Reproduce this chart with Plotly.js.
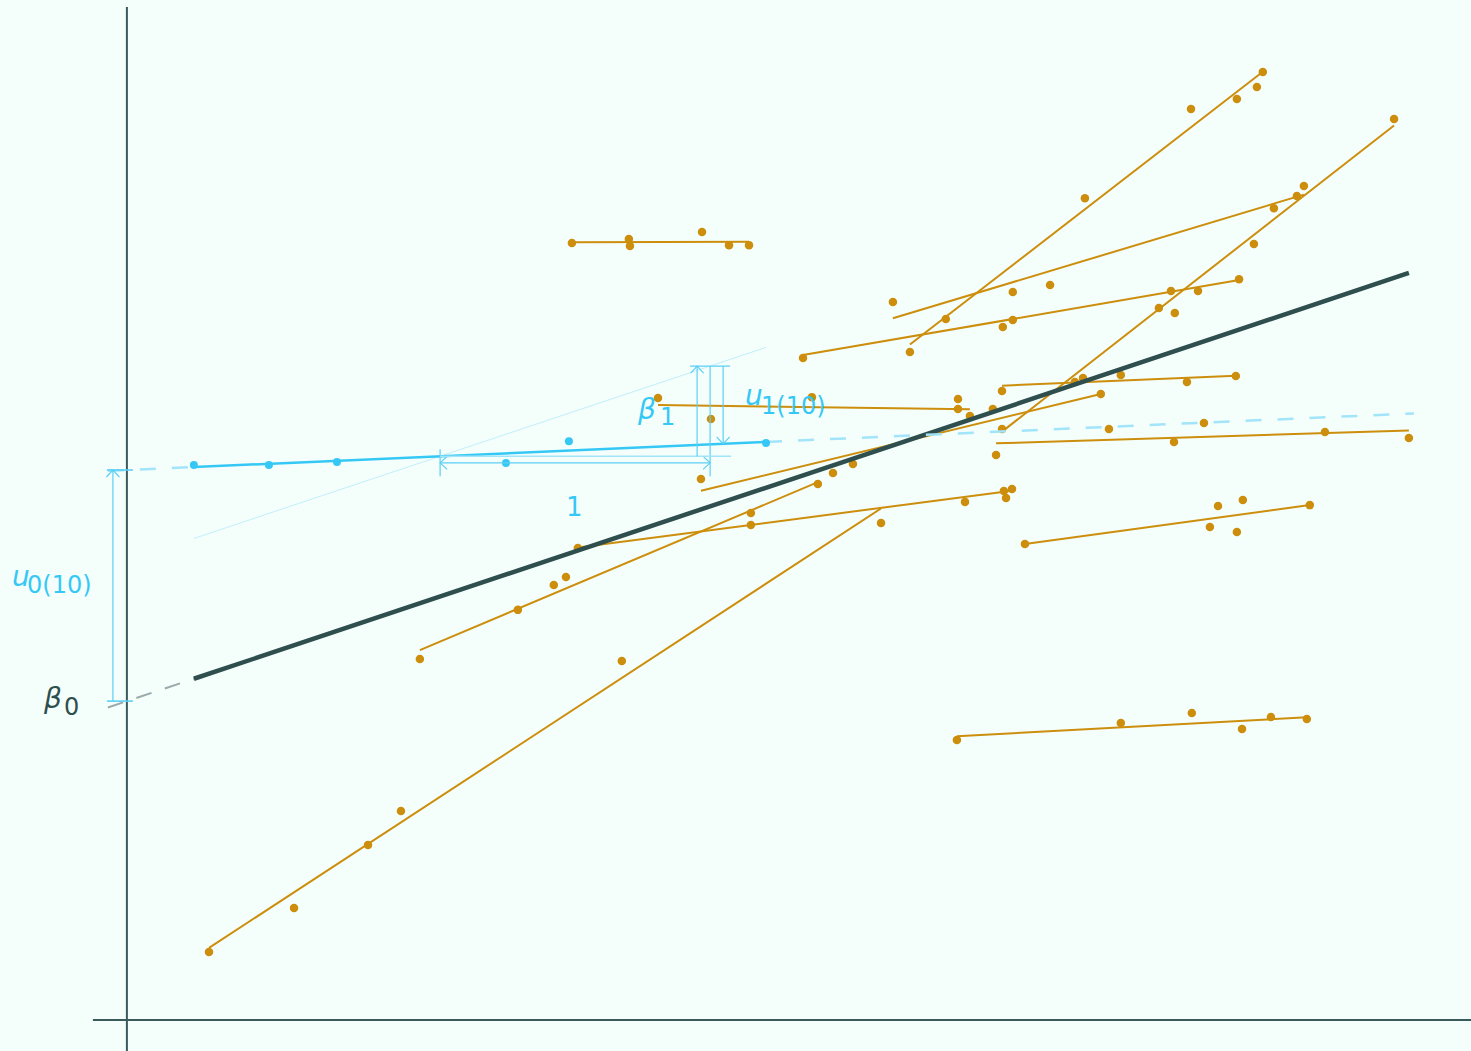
<!DOCTYPE html>
<html>
<head>
<meta charset="utf-8">
<script src="https://cdn.plot.ly/plotly-3.0.1.min.js"></script>
<style>
  html, body { margin: 0; padding: 0; background: #f4fffc; }
  #chart { width: 1471px; height: 1051px; }
</style>
</head>
<body>
<div id="chart"></div>
<script>
// Multilevel model: pupils (points) nested in schools; each school has its own
// regression line, the thick line is the overall (fixed-effect) line and
// school 10 is highlighted with its random intercept u0 and random slope u1.

// x values of the pupils in each of the other schools
const groupX = [
  [0.304, 0.619, 0.893, 1.015, 1.833, 2.793],
  [1.085, 1.448, 1.581, 1.626, 2.311, 2.559],
  [1.648, 1.859, 1.863, 2.130, 2.230, 2.304],
  [2.126, 2.615, 2.689, 3.207, 3.607],
  [1.967, 2.163, 2.537, 3.078, 3.078, 3.122],
  [1.670, 2.311, 3.104, 3.248, 3.278, 3.256],
  [2.504, 3.244, 3.281, 3.867, 3.967, 4.119],
  [3.241, 3.541, 3.822, 3.881, 4.174, 4.693],
  [2.900, 3.033, 3.548, 3.941, 4.111, 4.185, 4.207],
  [2.837, 3.281, 3.419, 4.248, 4.333, 4.359],
  [3.241, 3.511, 3.681, 3.926, 4.107],
  [3.219, 3.637, 3.878, 3.989, 4.437, 4.748],
  [3.326, 4.011, 4.041, 4.111, 4.133, 4.381],
  [3.074, 3.681, 3.944, 4.130, 4.237, 4.370]
];
// y values of the same pupils
const groupY = [
  [0.252, 0.415, 0.648, 0.774, 1.330, 1.841],
  [1.337, 1.519, 1.611, 1.641, 1.878, 1.985],
  [2.878, 2.893, 2.867, 2.919, 2.870, 2.870],
  [2.004, 2.026, 2.059, 2.263, 2.319],
  [2.304, 2.226, 2.307, 2.300, 2.263, 2.237],
  [1.748, 1.833, 1.919, 1.959, 1.967, 1.933],
  [2.452, 2.567, 2.593, 2.700, 2.700, 2.744],
  [2.189, 2.378, 2.637, 2.619, 2.874, 3.337],
  [2.474, 2.596, 3.044, 3.374, 3.411, 3.456, 3.511],
  [2.659, 2.696, 2.722, 3.007, 3.052, 3.089],
  [2.330, 2.363, 2.389, 2.363, 2.385],
  [2.093, 2.189, 2.141, 2.211, 2.178, 2.156],
  [1.763, 1.826, 1.904, 1.807, 1.926, 1.907],
  [1.037, 1.100, 1.137, 1.078, 1.122, 1.115]
];
// fitted school lines
const groupIntercept = [0.068, 0.912, 2.876, 1.446, 2.303, 1.531, 2.032, -0.352, 0.260, 1.745, 2.210, 2.036, 1.307, 0.885];
const groupSlope     = [0.654, 0.422, 0.003, 0.242, -0.013, 0.131, 0.172, 0.781, 0.773, 0.301, 0.043, 0.031, 0.137, 0.054];

// school 10
const focusX = [0.248, 0.526, 0.778, 1.404, 1.637, 2.367];
const focusY = [2.056, 2.056, 2.067, 2.063, 2.144, 2.137];

// fixed effects and the random effects of school 10
const beta0 = 1.181;
const beta1 = 0.334;
const u0 = 0.856;
const u1 = -0.290;

// ---------------------------------------------------------------------------
const X_RANGE = [-0.470, 4.978];
const Y_RANGE = [-0.115, 3.778];
const W = 1471, H = 1051;
const pxX = v => v * (X_RANGE[1] - X_RANGE[0]) / W;   // pixels -> x units
const pxY = v => v * (Y_RANGE[1] - Y_RANGE[0]) / H;   // pixels -> y units

const ORANGE = '#cc8e0c';
const DARK = '#2f4f4f';
const AXIS = '#3b5a5b';
const BLUE = '#36c8f5';
const BLUE_SOFT = '#a2e4fa';
const BLUE_LINE = '#5ccff5';
const BLUE_FAINT = '#c2eefb';
const GREY = '#9aa9a9';
const FONT = 'DejaVu Sans';

const lin = (a, b, x) => a + b * x;
const allX = groupX.flat().concat(focusX);
const xMin = Math.min(...allX), xMax = Math.max(...allX);
const extLeft = -pxX(19);

const traces = [];
const seg = (x0, y0, x1, y1, color, width, dash) => ({
  type: 'scatter', mode: 'lines', x: [x0, x1], y: [y0, y1],
  line: { color: color, width: width, dash: dash || 'solid' },
  hoverinfo: 'skip', showlegend: false
});

// school lines
groupX.forEach((xs, i) => {
  const lo = Math.min(...xs), hi = Math.max(...xs);
  traces.push(seg(lo, lin(groupIntercept[i], groupSlope[i], lo),
                  hi, lin(groupIntercept[i], groupSlope[i], hi), ORANGE, 2));
});
// pupils
groupX.forEach((xs, i) => {
  traces.push({
    type: 'scatter', mode: 'markers', x: xs, y: groupY[i],
    marker: { color: ORANGE, size: 8.5 }, hoverinfo: 'skip', showlegend: false
  });
});

// overall line
traces.push(seg(extLeft, lin(beta0, beta1, extLeft), xMin, lin(beta0, beta1, xMin), GREY, 2, '16px,14px'));
traces.push(seg(xMin, lin(beta0, beta1, xMin), xMax, lin(beta0, beta1, xMax), DARK, 4.5));

// school 10 line
const a10 = beta0 + u0, b10 = beta1 + u1;
const fLo = Math.min(...focusX), fHi = Math.max(...focusX);
const rightEnd = xMax + pxX(5);
traces.push(seg(extLeft, lin(a10, b10, extLeft), fLo, lin(a10, b10, fLo), BLUE_SOFT, 2.5, '16px,16px'));
traces.push(seg(fHi, lin(a10, b10, fHi), rightEnd, lin(a10, b10, rightEnd), BLUE_SOFT, 2.5, '16px,16px'));

// slope triangle: one unit along x from a point on the school 10 line
const sx = 1.16, sy = lin(a10, b10, sx);
traces.push(seg(fLo, sy + beta1 * (fLo - sx), fHi, sy + beta1 * (fHi - sx), BLUE_FAINT, 1));

traces.push(seg(fLo, lin(a10, b10, fLo), fHi, lin(a10, b10, fHi), BLUE, 2.5));
traces.push({
  type: 'scatter', mode: 'markers', x: focusX, y: focusY,
  marker: { color: BLUE, size: 8 }, hoverinfo: 'skip', showlegend: false
});

// ---------------------------------------------------------------------------
const shapes = [];
const ln = (x0, y0, x1, y1, color, width) => ({
  type: 'line', xref: 'x', yref: 'y', x0: x0, y0: y0, x1: x1, y1: y1,
  line: { color: color, width: width }, layer: 'above'
});
const chevron = (x, y, dir) => {
  const a = 6.5, d = 7;
  let pts;
  if (dir === 'up')    pts = [[x - pxX(a), y - pxY(d)], [x, y], [x + pxX(a), y - pxY(d)]];
  if (dir === 'down')  pts = [[x - pxX(a), y + pxY(d)], [x, y], [x + pxX(a), y + pxY(d)]];
  if (dir === 'left')  pts = [[x + pxX(d), y + pxY(a)], [x, y], [x + pxX(d), y - pxY(a)]];
  if (dir === 'right') pts = [[x - pxX(d), y + pxY(a)], [x, y], [x - pxX(d), y - pxY(a)]];
  return {
    type: 'path', xref: 'x', yref: 'y', layer: 'above',
    path: 'M ' + pts.map(p => p[0] + ',' + p[1]).join(' L '),
    line: { color: BLUE_LINE, width: 1.2 }
  };
};

// axes
shapes.push(ln(0, Y_RANGE[0] - 0.1, 0, Y_RANGE[1] - pxY(7), AXIS, 2));
shapes.push(ln(-pxX(34), 0, X_RANGE[1] + 0.1, 0, AXIS, 2));

// u0 bracket
const ux = -pxX(14);
shapes.push(ln(ux, beta0, ux, a10, BLUE_LINE, 1.2));
shapes.push(ln(-pxX(20), a10, pxX(6), a10, BLUE_LINE, 1.6));
shapes.push(ln(-pxX(20), beta0, pxX(6), beta0, BLUE_LINE, 1.6));
shapes.push(chevron(ux, a10, 'up'));

// one-unit bracket
const ex = sx + 1;
const by = sy - pxY(6.6);
shapes.push(ln(sx, by, ex, by, BLUE_LINE, 1.2));
shapes.push(chevron(sx, by, 'left'));
shapes.push(chevron(ex, by, 'right'));
shapes.push(ln(sx, sy + pxY(7), sx, sy - pxY(20), BLUE_LINE, 1.2));
shapes.push(ln(ex, sy + beta1, ex, sy - pxY(20), BLUE_LINE, 1.2));
// base of the slope triangle and the beta1 level
shapes.push(ln(sx, sy, ex + pxX(21), sy, BLUE_SOFT, 1.4));
shapes.push(ln(ex - pxX(20), sy + beta1, ex + pxX(20), sy + beta1, BLUE_LINE, 1.2));
// beta1 arrow
const bx = ex - pxX(13);
shapes.push(ln(bx, sy, bx, sy + beta1, BLUE_LINE, 1.2));
shapes.push(chevron(bx, sy + beta1, 'up'));
// u1 arrow
const u1x = ex + pxX(13);
const u1end = lin(a10, b10, u1x);
shapes.push(ln(u1x, sy + beta1, u1x, u1end, BLUE_LINE, 1.2));
shapes.push(chevron(u1x, u1end, 'down'));

// ---------------------------------------------------------------------------
const label = (x, y, text, size, color, anchor) => ({
  xref: 'x', yref: 'y', x: x, y: y, text: text, showarrow: false,
  xanchor: anchor || 'left', yanchor: 'middle',
  font: { family: FONT, size: size, color: color }
});
const annotations = [
  label(-0.434, 1.642, '<i>u</i>', 28, BLUE),
  label(-0.376, 1.612, '0(10)', 24, BLUE),
  label(-0.320, 1.192, '<i>β</i>', 28, DARK),
  label(-0.240, 1.160, '0', 24, DARK),
  label(1.880, 2.260, '<i>β</i>', 28, BLUE),
  label(1.968, 2.232, '1', 24, BLUE),
  label(2.282, 2.312, '<i>u</i>', 28, BLUE),
  label(2.342, 2.274, '1(10)', 24, BLUE),
  label(1.659, 1.900, '1', 26, BLUE, 'center')
];

const layout = {
  width: W, height: H,
  margin: { l: 0, r: 0, t: 0, b: 0, pad: 0 },
  paper_bgcolor: '#f4fffc', plot_bgcolor: '#f4fffc',
  showlegend: false,
  xaxis: { range: X_RANGE, visible: false, fixedrange: true },
  yaxis: { range: Y_RANGE, visible: false, fixedrange: true },
  shapes: shapes,
  annotations: annotations,
  hovermode: false
};

Plotly.newPlot('chart', traces, layout, { staticPlot: true, displayModeBar: false });
</script>
</body>
</html>
